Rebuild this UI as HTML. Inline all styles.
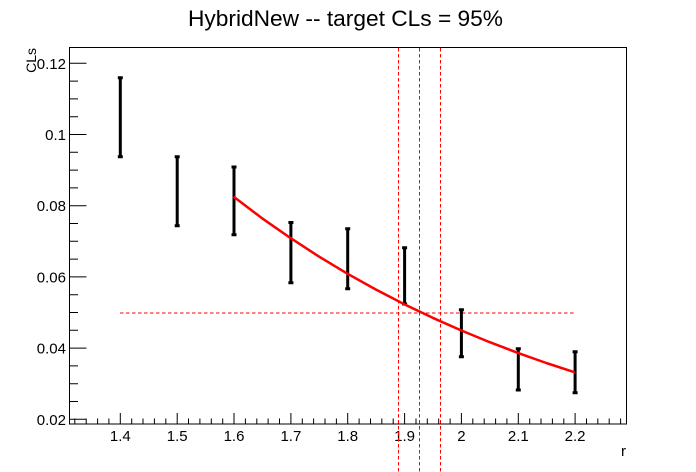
<!DOCTYPE html>
<html>
<head>
<meta charset="utf-8">
<style>
  html, body { margin: 0; padding: 0; background: #fff; }
  svg { display: block; }
  text { font-family: "Liberation Sans", Arial, sans-serif; fill: #000; }
</style>
</head>
<body>
<svg width="696" height="472" viewBox="0 0 696 472" xmlns="http://www.w3.org/2000/svg">
  <rect x="0" y="0" width="696" height="472" fill="#fff"/>

  <!-- Title -->
  <text x="188" y="26" font-size="22" textLength="315" lengthAdjust="spacingAndGlyphs">HybridNew -- target CLs = 95%</text>

  <!-- Frame -->
  <rect x="69.5" y="47.5" width="557" height="376.5" fill="none" stroke="#000" stroke-width="1"/>

  <!-- Y ticks -->
  <g stroke="#000" stroke-width="1">
    <line x1="69.5" y1="63.3" x2="86.5" y2="63.3"/>
    <line x1="69.5" y1="134.5" x2="86.5" y2="134.5"/>
    <line x1="69.5" y1="205.7" x2="86.5" y2="205.7"/>
    <line x1="69.5" y1="276.9" x2="86.5" y2="276.9"/>
    <line x1="69.5" y1="348.1" x2="86.5" y2="348.1"/>
    <line x1="69.5" y1="419.3" x2="86.5" y2="419.3"/>
    <path d="M69.5 401.5h8.5M69.5 383.7h8.5M69.5 365.9h8.5M69.5 330.3h8.5M69.5 312.5h8.5M69.5 294.7h8.5M69.5 259.1h8.5M69.5 241.3h8.5M69.5 223.5h8.5M69.5 187.9h8.5M69.5 170.1h8.5M69.5 152.3h8.5M69.5 116.7h8.5M69.5 98.9h8.5M69.5 81.1h8.5"/>
  </g>

  <!-- X ticks -->
  <g stroke="#000" stroke-width="1">
    <path d="M120.3 424v-11M177.2 424v-11M234.0 424v-11M290.9 424v-11M347.7 424v-11M404.6 424v-11M461.4 424v-11M518.3 424v-11M575.1 424v-11"/>
    <path d="M74.8 424v-5.5M86.2 424v-5.5M97.6 424v-5.5M108.9 424v-5.5M131.7 424v-5.5M143.0 424v-5.5M154.4 424v-5.5M165.8 424v-5.5M188.5 424v-5.5M199.9 424v-5.5M211.3 424v-5.5M222.7 424v-5.5M245.4 424v-5.5M256.8 424v-5.5M268.1 424v-5.5M279.5 424v-5.5M302.3 424v-5.5M313.6 424v-5.5M325.0 424v-5.5M336.4 424v-5.5M359.1 424v-5.5M370.5 424v-5.5M381.8 424v-5.5M393.2 424v-5.5M416.0 424v-5.5M427.3 424v-5.5M438.7 424v-5.5M450.1 424v-5.5M472.8 424v-5.5M484.2 424v-5.5M495.6 424v-5.5M506.9 424v-5.5M529.7 424v-5.5M541.0 424v-5.5M552.4 424v-5.5M563.8 424v-5.5M586.5 424v-5.5M597.8 424v-5.5M609.2 424v-5.5M620.6 424v-5.5"/>
  </g>

  <!-- Y labels -->
  <g font-size="15" text-anchor="end">
    <text x="66" y="68.8">0.12</text>
    <text x="66" y="140">0.1</text>
    <text x="66" y="211.2">0.08</text>
    <text x="66" y="282.4">0.06</text>
    <text x="66" y="353.6">0.04</text>
    <text x="66" y="424.8">0.02</text>
  </g>

  <!-- X labels -->
  <g font-size="15" text-anchor="middle">
    <text x="120.3" y="441">1.4</text>
    <text x="177.2" y="441">1.5</text>
    <text x="234.0" y="441">1.6</text>
    <text x="290.9" y="441">1.7</text>
    <text x="347.7" y="441">1.8</text>
    <text x="404.6" y="441">1.9</text>
    <text x="461.4" y="441">2</text>
    <text x="518.3" y="441">2.1</text>
    <text x="575.1" y="441">2.2</text>
  </g>

  <!-- Axis titles -->
  <text x="626" y="456" font-size="15" text-anchor="end">r</text>
  <text transform="translate(36,48) rotate(-90)" font-size="14" text-anchor="end">CLs</text>

  <!-- Dashed reference lines -->
  <g stroke="#ff0000" stroke-width="1" stroke-dasharray="3.5,2.5" fill="none">
    <line x1="120" y1="313" x2="575" y2="313"/>
    <line x1="398.5" y1="48" x2="398.5" y2="472"/>
    <line x1="419.5" y1="48" x2="419.5" y2="472"/>
    <line x1="440.5" y1="48" x2="440.5" y2="472"/>
  </g>

  <!-- Error bars -->
  <g stroke="#000" stroke-width="3" fill="none">
    <path d="M120.3 77.7V156.7M117.8 77.7h5M117.8 156.7h5"/>
    <path d="M177.2 156.7V225.7M174.7 156.7h5M174.7 225.7h5"/>
    <path d="M234.0 167V234.7M231.5 167h5M231.5 234.7h5"/>
    <path d="M290.9 222.5V282.7M288.4 222.5h5M288.4 282.7h5"/>
    <path d="M347.7 228.7V288.7M345.2 228.7h5M345.2 288.7h5"/>
    <path d="M404.6 247.7V304M402.1 247.7h5M402.1 304h5"/>
    <path d="M461.4 309.7V356.7M458.9 309.7h5M458.9 356.7h5"/>
    <path d="M518.3 348.7V390M515.8 348.7h5M515.8 390h5"/>
    <path d="M575.1 351.7V392.7M572.6 351.7h5M572.6 392.7h5"/>
  </g>

  <!-- Fit curve -->
  <polyline fill="none" stroke="#ff0000" stroke-width="2.5" stroke-linejoin="round"
    points="233.7,196.8 262.1,218.3 290.6,238.1 319.0,256.6 347.4,273.7 375.8,289.5 404.2,304.2 432.7,317.8 461.1,330.4 489.5,342.1 517.9,352.9 546.3,363.0 574.8,372.3"/>
</svg>
</body>
</html>
